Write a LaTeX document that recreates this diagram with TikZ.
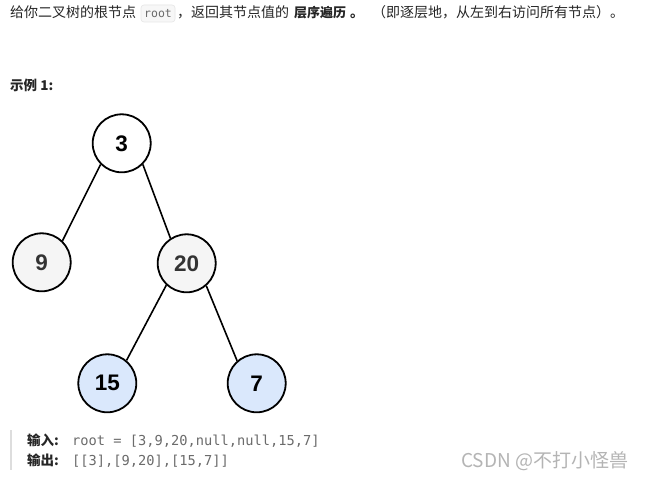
\documentclass[tikz,border=0pt]{standalone}
\usepackage{fontspec}
\setmainfont{Liberation Sans}
\newfontfamily\cjk{Noto Sans CJK SC}
\newfontfamily\codefont{DejaVu Sans Mono}
\definecolor{txt}{HTML}{262626}
\definecolor{codetxt}{HTML}{6B6B6B}
\definecolor{codebg}{HTML}{F7F7F7}
\definecolor{codebd}{HTML}{E6E6E6}
\definecolor{graynode}{HTML}{F5F5F5}
\definecolor{bluenode}{HTML}{DAE8FC}
\definecolor{darktxt}{HTML}{333333}
\definecolor{wm}{HTML}{B4B4B4}
\definecolor{barc}{HTML}{DDDDDD}
\tikzset{
  treenode/.style={circle, draw=black, line width=1.8pt, minimum size=58pt, inner sep=0pt,
    font=\fontsize{22.5}{24}\selectfont\bfseries},
  edge/.style={line width=1.6pt, black},
  para/.style={anchor=base west, inner sep=0pt, text=txt, font=\cjk\fontsize{14}{16}\selectfont},
  code/.style={anchor=base west, inner sep=0pt, text=codetxt, font=\codefont\fontsize{13.7}{16}\selectfont},
}
\begin{document}
\begin{tikzpicture}[x=1pt,y=-1pt]
\useasboundingbox[fill=white] (0,0) rectangle (647,478);
% top line
\node[para] (t1) at (10,17.5) {给你二叉树的根节点};
\node[draw=codebd, fill=codebg, rounded corners=3pt, line width=0.6pt, minimum width=34pt, minimum height=17pt, inner sep=0pt] (rootbox) at (158,13.5) {};
\node[anchor=base, inner sep=0pt, text=codetxt, font=\codefont\fontsize{11.5}{14}\selectfont] (rootcode) at (158,17.5) {root};
\node[para] (t2) at (177,17.5) {，返回其节点值的};
\node[para, font=\cjk\fontsize{13}{16}\selectfont\bfseries] (t3) at (294,17.5) {层序遍历};
\node[para, font=\cjk\fontsize{14}{16}\selectfont\bfseries] (t3b) at (350,17.5) {。};
\node[para] (t4) at (372,17.5) {（即逐层地，从左到右访问所有节点）。};
% example title
\node[para, font=\cjk\fontsize{13.5}{16}\selectfont\bfseries] (ex) at (10,90.5) {示例 1:};
% tree
\node[treenode, fill=white, text=black] (n3) at (121.7,143.3) {3};
\node[treenode, fill=graynode, text=darktxt] (n9) at (41.7,262.3) {9};
\node[treenode, fill=graynode, text=darktxt] (n20) at (186.7,263.3) {20};
\node[treenode, fill=bluenode, text=black] (n15) at (107.3,383.3) {15};
\node[treenode, fill=bluenode, text=black] (n7) at (256.7,383.3) {7};
\draw[edge] (n3.225) -- (n9.46);
\draw[edge] (n3.315) -- (n20.123);
\draw[edge] (n20.227) -- (n15.50);
\draw[edge] (n20.311) -- (n7.131);
% bottom block
\coordinate (bar1) at (11,430);
\coordinate (bar2) at (11,470);
\draw[barc, line width=2pt] (bar1) -- (bar2);
\node[para, font=\cjk\fontsize{13.5}{16}\selectfont\bfseries] (in) at (27,445.5) {输入:};
\node[code] (incode) at (72,445.5) {root = [3,9,20,null,null,15,7]};
\node[para, font=\cjk\fontsize{13.5}{16}\selectfont\bfseries] (out) at (27,465.5) {输出:};
\node[code] (outcode) at (72,465.5) {[[3],[9,20],[15,7]]};
% watermark
\node[anchor=base west, inner sep=0pt, text=wm, font=\cjk\fontsize{19}{22}\selectfont] (wmark) at (461,467.5) {CSDN @不打小怪兽};
\end{tikzpicture}
\end{document}
